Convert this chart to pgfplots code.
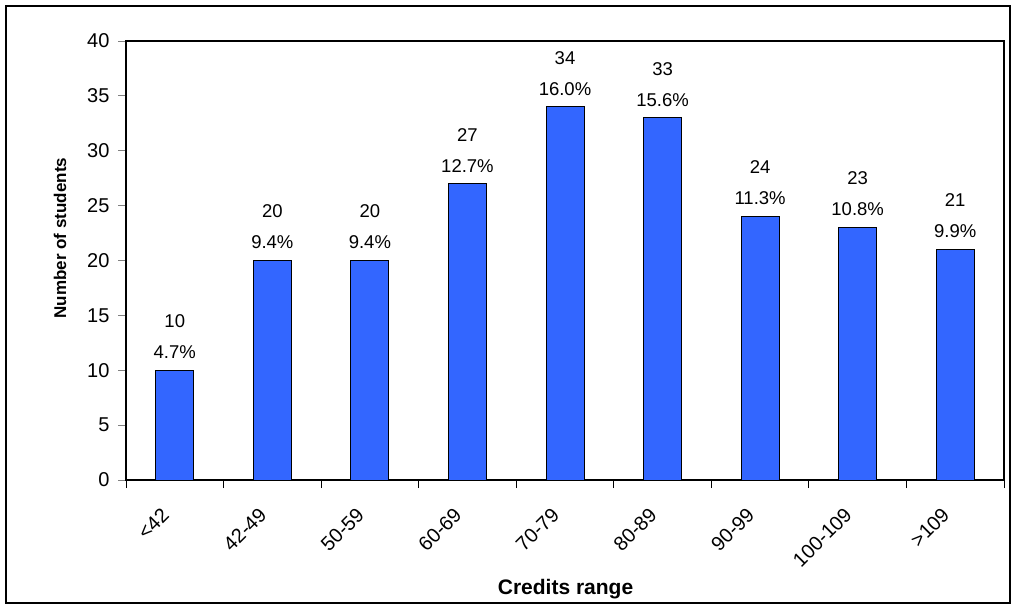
\documentclass[border=0pt]{standalone}
\usepackage{pgfplots}
\pgfplotsset{compat=1.18}
\usepackage{pgfplotstable}
\usepackage{fontspec}
\setmainfont{Liberation Sans}
\definecolor{barblue}{RGB}{51,102,255}
\pgfplotstableread{
x y pct
0 10 4.7
1 20 9.4
2 20 9.4
3 27 12.7
4 34 16.0
5 33 15.6
6 24 11.3
7 23 10.8
8 21 9.9
}\datatable
\begin{document}
\begin{tikzpicture}
\useasboundingbox (0pt,0pt) rectangle (1016pt,608pt);
\draw[line width=1.3pt] (6pt,5pt) rectangle (1010pt,602pt);
\begin{axis}[
  at={(126pt,128pt)}, anchor=south west,
  width=878pt, height=439pt, scale only axis,
  xmin=-0.5, xmax=8.5, ymin=0, ymax=40,
  ybar, bar width=38pt,
  axis line style={line width=1.2pt},
  xtick={0,...,8},
  xticklabels={{<42},{42-49},{50-59},{60-69},{70-79},{80-89},{90-99},{100-109},{>109}},
  minor xtick={-0.5,0.5,...,8.5},
  ytick={0,5,...,40},
  tick align=outside,
  xtick pos=bottom, ytick pos=left,
  major tick length=8pt, minor tick length=8pt,
  x tick style={draw=none},
  minor x tick style={draw=black, line width=1pt},
  y tick style={line width=1pt},
  /pgf/number format/assume math mode=true,
  tick label style={font=\fontsize{20}{23}\selectfont},
  yticklabel style={xshift=-5pt},
  xticklabel style={xshift=-7pt, yshift=-21pt, rotate=45, anchor=east},
  xlabel={\textbf{Credits range}},
  ylabel={\textbf{Number of students}},
  xlabel style={font=\fontsize{21}{24}\selectfont, at={(axis description cs:0.5006,-0.248)}, anchor=center},
  ylabel style={font=\fontsize{17}{20}\selectfont, at={(axis description cs:-0.0752,0.551)}, anchor=center},
  nodes near coords={\pgfmathprintnumber[fixed,precision=0]{\pgfplotspointmeta}\\\pgfmathprintnumber[fixed,fixed zerofill,precision=1]{\pct}\%},
  point meta=y,
  visualization depends on={\thisrow{pct} \as \pct},
  every node near coord/.append style={font=\fontsize{18.5}{31}\selectfont, align=center, anchor=south, inner sep=0pt, yshift=11pt, /pgf/number format/assume math mode=true},
]
\addplot[fill=barblue, draw=black, line width=1pt] table[x=x,y=y] {\datatable};
\end{axis}
\end{tikzpicture}
\end{document}
